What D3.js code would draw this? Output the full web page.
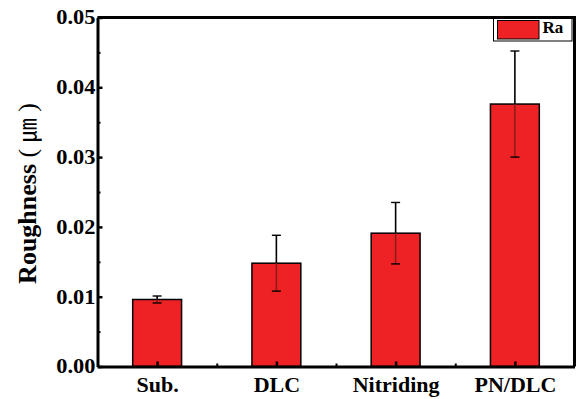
<!DOCTYPE html>
<html>
<head>
<meta charset="utf-8">
<script src="https://cdn.jsdelivr.net/npm/d3@7"></script>
<style>
  html, body { margin: 0; padding: 0; background: #fff; }
  svg { display: block; }
</style>
</head>
<body>
<svg id="chart" width="579" height="399"></svg>
<script>
// Surface roughness (Ra) of each sample, with standard deviations
const categories = ["Sub.", "DLC", "Nitriding", "PN/DLC"];
const raValues = [0.0096, 0.0148, 0.0191, 0.0376];
const raErrors = [0.0005, 0.0040, 0.0044, 0.0076];
const yTicks = [0, 0.01, 0.02, 0.03, 0.04, 0.05];
const yMinorTicks = [0.005, 0.015, 0.025, 0.035, 0.045];
const legendLabel = "Ra";

const barColor = "#EE2224";
const serif = "'Liberation Serif', 'Times New Roman', 'DejaVu Serif', serif";
const svg = d3.select("#chart");

const plotLeft = 97.5, plotRight = 574.5, plotTop = 17.5, plotBottom = 366.5;
const x = d3.scaleLinear().domain([0.5, categories.length + 0.5]).range([plotLeft, plotRight]);
const y = d3.scaleLinear().domain([0, 0.05]).range([plotBottom, plotTop]);
const halfBar = 0.205;

// bars
const g = svg.append("g");
categories.forEach((c, i) => {
  const pos = i + 1;
  const v = raValues[i], e = raErrors[i];
  g.append("rect")
    .attr("x", x(pos - halfBar))
    .attr("y", y(v))
    .attr("width", x(pos + halfBar) - x(pos - halfBar))
    .attr("height", y(0) - y(v))
    .attr("fill", barColor)
    .attr("stroke", "#000")
    .attr("stroke-width", 1.5);
  // error bar: part above the bar top in black, part inside the bar darker red
  const cx = x(pos);
  g.append("line").attr("x1", cx).attr("x2", cx)
    .attr("y1", y(v + e)).attr("y2", y(v))
    .attr("stroke", "#000").attr("stroke-width", 1.6);
  g.append("line").attr("x1", cx).attr("x2", cx)
    .attr("y1", y(v)).attr("y2", y(v - e))
    .attr("stroke", "#8e1b1b").attr("stroke-width", 1.6);
  [v + e, v - e].forEach(t => {
    g.append("line").attr("x1", cx - 4.5).attr("x2", cx + 4.5)
      .attr("y1", y(t)).attr("y2", y(t))
      .attr("stroke", "#000").attr("stroke-width", 1.4);
  });
});

// frame (top and right)
svg.append("path")
  .attr("d", `M${plotLeft},${plotTop}H${plotRight}V${plotBottom}`)
  .attr("fill", "none").attr("stroke", "#000").attr("stroke-width", 3);

// y axis
const yAxis = svg.append("g").attr("transform", `translate(${plotLeft},0)`)
  .call(d3.axisLeft(y).tickValues(yTicks).tickSizeInner(-5).tickSizeOuter(0)
    .tickPadding(2).tickFormat(d3.format(".2f")));
yAxis.select(".domain").attr("stroke-width", 3);
yAxis.selectAll(".tick line").attr("stroke-width", 2.5);
yAxis.selectAll("text")
  .style("font-family", serif).style("font-weight", "bold").style("font-size", "20px")
  .attr("transform", "scale(1.12,1)").attr("x", -2 / 1.12);
svg.append("g").attr("transform", `translate(${plotLeft},0)`)
  .call(d3.axisLeft(y).tickValues(yMinorTicks).tickSizeInner(-3).tickSizeOuter(0).tickFormat(""))
  .call(s => s.select(".domain").remove())
  .selectAll(".tick line").attr("stroke-width", 2);

// x axis
const xAxis = svg.append("g").attr("transform", `translate(0,${plotBottom})`)
  .call(d3.axisBottom(x).tickValues(d3.range(1, categories.length + 1)).tickSizeInner(-5)
    .tickSizeOuter(0).tickPadding(9.5).tickFormat(d => categories[d - 1]));
xAxis.select(".domain").attr("stroke-width", 3);
xAxis.selectAll(".tick line").attr("stroke-width", 2.5);
xAxis.selectAll("text")
  .style("font-family", serif).style("font-weight", "bold").style("font-size", "22px");
svg.append("g").attr("transform", `translate(0,${plotBottom})`)
  .call(d3.axisBottom(x).tickValues(d3.range(1.5, categories.length, 1)).tickSizeInner(-3)
    .tickSizeOuter(0).tickFormat(""))
  .call(s => s.select(".domain").remove())
  .selectAll(".tick line").attr("stroke-width", 2);

// y axis title
const title = svg.append("text")
  .attr("transform", `translate(36,${(95 + 292) / 2}) rotate(-90)`)
  .attr("text-anchor", "middle")
  .style("font-family", serif).style("font-weight", "bold")
  .style("font-size", "26px");
title.append("tspan").text("Roughness ");
title.append("tspan").text("( ")
  .style("font-weight", "normal");
title.append("tspan").text("㎛")
  .style("font-family", "'Noto Sans CJK KR'").style("font-weight", "normal").style("font-size", "24px");
title.append("tspan").text(" )")
  .style("font-weight", "normal");

// legend
const lg = svg.append("g");
lg.append("rect").attr("x", 493.5).attr("y", 18.5).attr("width", 78.5).attr("height", 22.5)
  .attr("fill", "#fff").attr("stroke", "#000").attr("stroke-width", 1);
lg.append("rect").attr("x", 497.5).attr("y", 20.5).attr("width", 41.5).attr("height", 18.5)
  .attr("fill", barColor).attr("stroke", "#000").attr("stroke-width", 1);
lg.append("text").attr("x", 542.5).attr("y", 33)
  .style("font-family", serif).style("font-weight", "bold")
  .style("font-size", "17px").text(legendLabel);
</script>
</body>
</html>
